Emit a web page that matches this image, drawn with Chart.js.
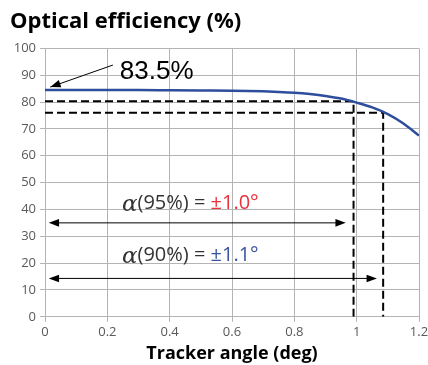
<!DOCTYPE html>
<html>
<head>
<meta charset="utf-8">
<script src="https://cdn.jsdelivr.net/npm/chart.js@4"></script>
<style>
html,body{margin:0;padding:0;background:#fff;}
#wrap{width:428px;height:365px;}
</style>
</head>
<body>
<div id="wrap"><canvas id="chart" width="428" height="365"></canvas></div>
<script>
// efficiency curve
const angles = [0, 0.1, 0.2, 0.3, 0.4, 0.5, 0.6, 0.7, 0.75, 0.8, 0.85, 0.9, 0.95, 1.0, 1.05, 1.1, 1.15, 1.2]
const efficiency = [84.5, 84.5, 84.5, 84.5, 84.4, 84.3, 84.2, 84.0, 83.8, 83.5, 83.0, 82.3, 81.3, 79.8, 78.0, 75.5, 72.0, 67.5]

// 95% and 90% acceptance levels
const levelNames = ["95%", "90%"]
const levelValues = [80.3, 76.0]
const levelAngles = [0.99, 1.085]
const levelText = ["±1.0°", "±1.1°"]
const levelColors = ["#e8323c", "#3a55a0"]
const arrowY = [35, 14.3]
const arrowEnd = [0.965, 1.065]
const textY = [42.2, 22.8]

const peakText = "83.5%"
const xTicks = [0, 0.2, 0.4, 0.6, 0.8, 1, 1.2]

const gridColor = "#b4b4b4"
const tickColor = "#595959"

const datasets = [{
  data: angles.map((a, i) => ({x: a, y: efficiency[i]})),
  borderColor: "#2e4d9c",
  borderWidth: 2.5,
  pointRadius: 0,
  cubicInterpolationMode: "monotone",
  order: 0
}]

levelValues.forEach((v, i) => {
  datasets.push({
    data: [{x: 0, y: v}, {x: levelAngles[i], y: v}, {x: levelAngles[i], y: 0}],
    borderColor: "#000",
    borderWidth: 2,
    borderDash: [8, 4],
    pointRadius: 0,
    tension: 0,
    order: 1
  })
})

function arrowHead(ctx, x1, y1, x2, y2, size){
  const ang = Math.atan2(y2 - y1, x2 - x1)
  ctx.beginPath()
  ctx.moveTo(x2, y2)
  ctx.lineTo(x2 - size * Math.cos(ang - 0.35), y2 - size * Math.sin(ang - 0.35))
  ctx.lineTo(x2 - size * Math.cos(ang + 0.35), y2 - size * Math.sin(ang + 0.35))
  ctx.closePath()
  ctx.fill()
}

const notes = {
  id: "notes",
  afterDatasetsDraw(chart){
    const ctx = chart.ctx
    const xs = chart.scales.x
    const ys = chart.scales.y
    ctx.save()
    ctx.fillStyle = "#000"
    ctx.strokeStyle = "#000"
    ctx.lineWidth = 1

    // double arrows
    arrowY.forEach((y, i) => {
      const py = ys.getPixelForValue(y)
      const a = xs.getPixelForValue(0.012)
      const b = xs.getPixelForValue(arrowEnd[i])
      ctx.beginPath()
      ctx.moveTo(a + 6, py)
      ctx.lineTo(b - 6, py)
      ctx.stroke()
      arrowHead(ctx, b, py, a, py, 11)
      arrowHead(ctx, a, py, b, py, 11)
    })

    // alpha labels
    textY.forEach((y, i) => {
      const py = ys.getPixelForValue(y)
      let px = xs.getPixelForValue(0.247)
      ctx.textBaseline = "middle"
      ctx.textAlign = "left"
      ctx.fillStyle = "#333"
      ctx.font = "italic 23px 'DejaVu Serif'"
      ctx.fillText("α", px, py + 1)
      px += ctx.measureText("α").width
      ctx.font = "20px 'Open Sans'"
      const mid = "(" + levelNames[i] + ") = "
      ctx.fillText(mid, px, py)
      px += ctx.measureText(mid).width
      ctx.fillStyle = levelColors[i]
      ctx.fillText(levelText[i], px, py)
    })

    // peak label with pointer
    ctx.fillStyle = "#000"
    ctx.font = "26px 'Liberation Sans'"
    ctx.textAlign = "left"
    ctx.textBaseline = "middle"
    ctx.fillText(peakText, xs.getPixelForValue(0.24), ys.getPixelForValue(91.4))
    const sx = xs.getPixelForValue(0.218), sy = ys.getPixelForValue(93.8)
    const ex = xs.getPixelForValue(0.017), ey = ys.getPixelForValue(85.6)
    ctx.beginPath()
    ctx.moveTo(sx, sy)
    ctx.lineTo(ex, ey)
    ctx.stroke()
    arrowHead(ctx, sx, sy, ex, ey, 11)
    ctx.restore()
  }
}

new Chart(document.getElementById("chart"), {
  type: "line",
  data: {datasets: datasets},
  options: {
    responsive: false,
    animation: false,
    layout: {padding: {left: 10, right: 9, top: 0, bottom: 0}},
    plugins: {
      legend: {display: false},
      tooltip: {enabled: false},
      title: {
        display: true,
        text: "Optical efficiency (%)",
        align: "start",
        color: "#000",
        font: {family: "Open Sans", size: 22, weight: "bold"},
        padding: {top: 9, bottom: 13}
      }
    },
    scales: {
      x: {
        type: "linear",
        min: 0,
        max: 1.2,
        afterBuildTicks(scale){ scale.ticks = xTicks.map(v => ({value: v})) },
        afterFit(scale){ scale.paddingRight = 0 },
        grid: {color: gridColor, tickLength: 5},
        border: {color: gridColor},
        ticks: {
          color: tickColor,
          font: {family: "Open Sans", size: 13},
          padding: 3,
          maxRotation: 0,
          callback: v => String(v)
        },
        title: {
          display: true,
          text: "Tracker angle (deg)",
          color: "#000",
          font: {family: "Open Sans", size: 18, weight: "bold"},
          padding: {top: 0, bottom: 0}
        }
      },
      y: {
        min: 0,
        max: 100,
        afterFit(scale){ scale.width = 35 },
        grid: {color: gridColor, tickLength: 5},
        border: {color: gridColor},
        ticks: {
          stepSize: 10,
          color: tickColor,
          font: {family: "Open Sans", size: 13},
          padding: 4
        }
      }
    }
  },
  plugins: [notes]
})
</script>
</body>
</html>
